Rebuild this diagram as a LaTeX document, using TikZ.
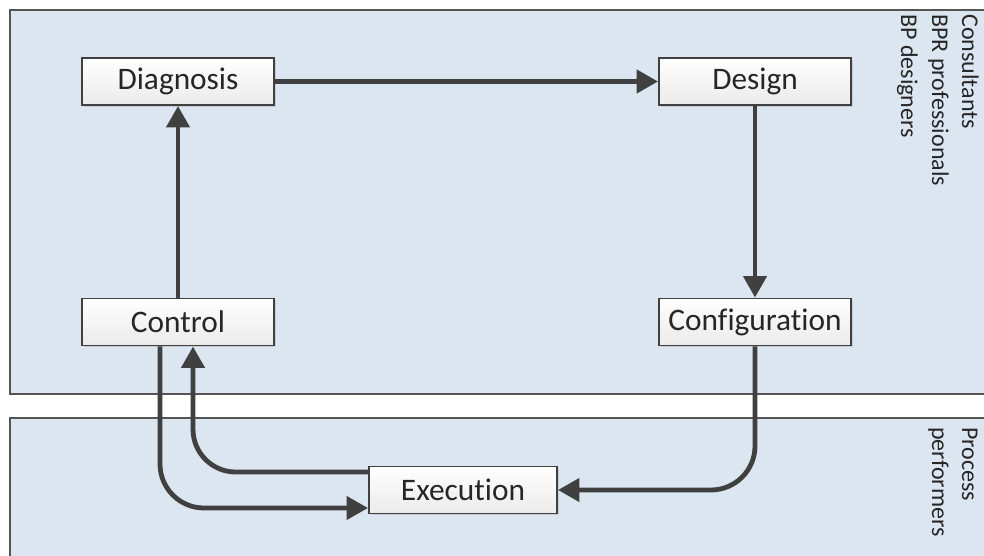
\documentclass[tikz,border=0pt]{standalone}
\usepackage{fontspec}
\setmainfont{Carlito}[Ligatures=NoCommon]
\usetikzlibrary{arrows.meta,shadows}
\definecolor{laneblue}{RGB}{220,230,241}
\definecolor{laneline}{RGB}{85,85,85}
\definecolor{ink}{RGB}{64,64,64}
\definecolor{txt}{RGB}{38,38,38}
\tikzset{
  lane/.style={draw=laneline, line width=1.6pt, fill=laneblue},
  stepbox/.style={draw=ink, line width=1.4pt, top color=white, bottom color=black!8,
    minimum width=192*0.75pt, minimum height=47*0.75pt, inner sep=0pt,
    font=\fontsize{23.5}{27}\selectfont, text=txt,
    drop shadow={shadow xshift=1.2pt, shadow yshift=-1.2pt, opacity=0.25}},
  flow/.style={draw=ink, line width=3.6pt, -{Triangle[length=16pt,width=17pt]}},
  lanelabel/.style={rotate=-90, anchor=base west, inner sep=0pt,
    font=\fontsize{18}{22}\selectfont, text=txt}
}
\begin{document}
\begin{tikzpicture}[x=0.75pt, y=-0.75pt]
\useasboundingbox (0,0) rectangle (984,556);
\clip (0,0) rectangle (984,556);
\fill[white] (0,0) rectangle (984,556);
\path[lane] (10,10) rectangle (1000,394);
\path[lane] (10,418) rectangle (1000,580);
\node[lanelabel] (l1) at (962,14) {Consultants};
\node[lanelabel] (l2) at (932,14) {BPR professionals};
\node[lanelabel] (l3) at (901,14) {BP designers};
\node[lanelabel] (l4) at (962,427) {Process};
\node[lanelabel] (l5) at (932,427) {performers};
\node[stepbox] (dia) at (178,81.5) {Diagnosis};
\node[stepbox] (des) at (755,81.5) {Design};
\node[stepbox] (ctl) at (178,322) {Control};
\node[stepbox] (conf) at (755,322) {Configuration};
\node[stepbox, minimum width=188*0.75pt] (exe) at (463,490) {Execution};
\draw[flow] (dia.east) -- (des.west);
\draw[flow] (des.south) -- (conf.north);
\draw[flow] (ctl.north) -- (dia.south);
\draw[flow, rounded corners=33pt] (conf.south) |- (exe.east);
\draw[flow, rounded corners=33pt] ([xshift=-18*0.75pt]ctl.south) |- ([yshift=-18*0.75pt]exe.west);
\draw[flow, rounded corners=32pt] ([yshift=18*0.75pt]exe.west) -| ([xshift=15*0.75pt]ctl.south);
\end{tikzpicture}
\end{document}
